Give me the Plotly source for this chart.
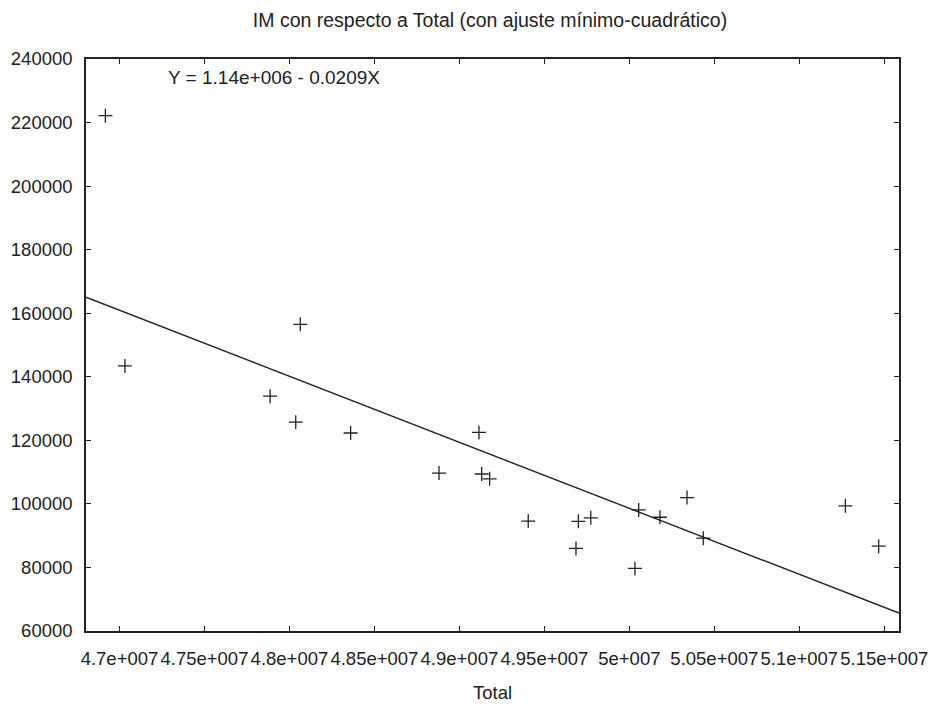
import plotly.graph_objects as go

# Data
total = [4.6917e7, 4.7032e7, 4.7886e7, 4.8064e7, 4.8037e7, 4.8360e7, 4.8880e7,
         4.9115e7, 4.9131e7, 4.9178e7, 4.9405e7, 4.9686e7, 4.9700e7, 4.9773e7,
         5.0033e7, 5.0055e7, 5.0180e7, 5.0339e7, 5.0435e7, 5.1271e7, 5.1467e7]
im = [222160, 143400, 133900, 156500, 125700, 122300, 109700,
      122500, 109400, 107900, 94600, 86000, 94500, 95600,
      79700, 98100, 95800, 102000, 89200, 99400, 86700]

fit_intercept = 1137600
fit_slope = -0.02078

x_range = [4.6803e7, 5.15865e7]
y_range = [60000, 240000]

x_tickvals = [4.7e7, 4.75e7, 4.8e7, 4.85e7, 4.9e7, 4.95e7, 5.0e7, 5.05e7, 5.1e7, 5.15e7]
x_ticktext = ["4.7e+007", "4.75e+007", "4.8e+007", "4.85e+007", "4.9e+007",
              "4.95e+007", "5e+007", "5.05e+007", "5.1e+007", "5.15e+007"]
y_tickvals = [60000, 80000, 100000, 120000, 140000, 160000, 180000, 200000, 220000, 240000]
y_ticktext = [str(v) for v in y_tickvals]

title_text = "IM con respecto a Total (con ajuste mínimo-cuadrático)"
eq_text = "Y = 1.14e+006 - 0.0209X"

ink = "#222222"
font_family = "Liberation Sans, Arial, sans-serif"

fig = go.Figure()
fig.add_trace(go.Scatter(
    x=total, y=im, mode="markers",
    marker=dict(symbol="cross-thin", size=10, line=dict(color=ink, width=1.3)),
    showlegend=False, hoverinfo="x+y"))

fit_x = x_range
fit_y = [fit_intercept + fit_slope * v for v in fit_x]
fig.add_trace(go.Scatter(x=fit_x, y=fit_y, mode="lines",
                         line=dict(color=ink, width=1.4), showlegend=False))

fig.add_annotation(text=eq_text, xref="paper", yref="paper",
                   x=(166 - 86) / (899 - 86), y=1 - (77 - 59) / (631 - 59),
                   xanchor="left", yanchor="middle", showarrow=False,
                   font=dict(size=19, color=ink, family=font_family))

axis_common = dict(showgrid=False, zeroline=False, showline=True, linecolor=ink,
                   linewidth=1.5, mirror="ticks", ticks="inside", ticklen=5,
                   tickcolor=ink, tickwidth=1.2, automargin=False,
                   tickfont=dict(size=18.5, color=ink, family=font_family))

fig.update_layout(
    width=938, height=705,
    margin=dict(l=86, r=39, t=59, b=74, autoexpand=False),
    paper_bgcolor="white", plot_bgcolor="white",
    title=dict(text=title_text, x=490 / 938, xanchor="center",
               y=1 - 20 / 705, yanchor="middle",
               font=dict(size=19.5, color=ink, family=font_family)),
    xaxis=dict(range=x_range, tickvals=x_tickvals, ticktext=x_ticktext,
               tickangle=0,
               title=dict(text="Total", font=dict(size=18.5, color=ink, family=font_family),
                          standoff=18),
               ticklabelstandoff=10, **axis_common),
    yaxis=dict(range=y_range, tickvals=y_tickvals, ticktext=y_ticktext,
               ticklabelstandoff=8, **axis_common),
)

fig.write_html("out.html")
